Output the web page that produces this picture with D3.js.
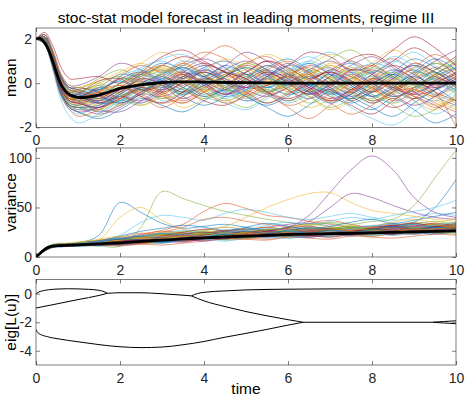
<!DOCTYPE html>
<html><head><meta charset="utf-8">
<script src="https://cdn.jsdelivr.net/npm/d3@7"></script>
<style>
body{margin:0;background:#fff}
svg{display:block}
text{font-family:"Liberation Sans",Arial,Helvetica,sans-serif}
</style>
</head><body>
<svg id="chart" width="468" height="396"></svg>
<script>
// ---------------- data ----------------
const title = "stoc-stat model forecast in leading moments, regime III";
const xTicks = [0, 2, 4, 6, 8, 10];
const meanTicks = [-2, 0, 2];
const varTicks = [0, 50, 100];
const eigTicks = [-4, -2, 0];
const ensembleColors = ["#0072BD","#D95319","#EDB120","#7E2F8E","#77AC30","#4DBEEE","#A2142F"];

// sample times of the ensemble members
const time = [0,0.2,0.4,0.6,0.8,1,1.5,2,2.5,3,3.5,4,4.5,5,5.5,6,6.5,7,7.5,8,8.5,9,9.5,10];

// ensemble members: mean
const meanMembers = [
[2,2.0,1.1,-0.1,-0.5,-0.5,-0.8,-0.2,0.4,0.9,0.6,-0.1,-0.6,-0.3,0.3,0.8,0.5,-0.2,-0.7,-0.4,0.2,0.6,0.1,-0.3],
[2,1.9,0.9,-0.3,-0.8,-0.9,-0.4,0.2,0.1,-0.5,-0.9,-0.4,0.3,0.9,1.2,0.6,-0.1,-0.5,0.0,0.7,1.1,0.5,-0.2,0.1],
[2,2.1,1.3,0.2,-0.3,-0.2,0.1,0.5,0.9,0.4,-0.2,-0.6,-0.2,0.4,0.1,-0.6,-1.1,-0.7,0.1,0.5,0.0,-0.8,-1.2,-0.6],
[2,1.8,0.8,-0.5,-1.0,-1.2,-1.1,-0.6,-0.1,0.3,0.8,1.1,0.7,0.0,-0.4,0.0,0.6,1.0,0.5,-0.1,-0.6,-0.2,0.4,0.9],
[2,2.0,1.0,-0.2,-0.7,-0.7,-0.3,-0.7,-1.0,-0.5,0.2,0.5,0.1,-0.5,-0.9,-0.4,0.3,0.2,-0.4,-0.9,-0.5,0.3,0.9,0.4],
[2,2.1,1.2,0.1,-0.4,-0.4,-0.6,0.0,0.6,1.1,1.3,0.8,0.1,-0.2,0.3,0.7,0.2,-0.5,-0.3,0.4,0.9,1.4,0.8,0.2],
[2,1.9,1.0,-0.2,-0.7,-0.8,-1.3,-1.0,-0.4,0.0,-0.3,-0.8,-1.0,-0.5,0.2,0.4,-0.1,-0.6,-1.0,-1.4,-0.8,-0.2,0.3,-0.2],
[2,2.0,1.1,-0.1,-0.6,-0.6,-0.2,0.4,0.2,-0.2,0.3,0.7,1.0,0.6,-0.1,-0.5,-0.2,0.5,0.9,0.4,-0.3,-0.7,-0.3,0.5],
[2,2.2,1.4,0.3,-0.2,-0.3,-0.9,-0.5,0.0,-0.4,-0.8,-0.3,0.4,0.2,-0.4,-1.0,-0.7,0.0,0.6,0.8,0.3,-0.4,-0.9,-1.3],
[2,1.9,0.9,-0.3,-0.8,-1.0,-0.7,-0.1,0.5,0.7,0.2,-0.3,0.0,0.8,1.3,0.9,0.2,-0.2,0.2,-0.3,-0.9,-0.5,0.2,0.6],
[2,2.0,1.0,-0.2,-0.8,-0.9,-1.2,-1.3,-0.8,-0.2,0.4,0.3,-0.3,-0.8,-0.5,0.2,0.8,0.4,-0.3,0.1,0.6,0.2,-0.6,-1.0],
[2,2.1,1.2,0.0,-0.5,-0.5,0.0,0.3,-0.2,-0.7,-0.4,0.2,0.6,0.3,-0.3,-0.1,0.5,1.1,1.5,0.9,0.3,0.0,0.4,1.0],
[2,1.8,0.7,-0.6,-1.2,-1.4,-1.0,-0.4,0.2,0.5,0.0,-0.6,-0.9,-1.2,-0.7,-0.1,0.0,-0.5,-0.2,0.5,0.3,-0.4,-0.8,-0.3],
[2,2.0,1.1,-0.1,-0.6,-0.6,-0.5,-0.3,0.3,0.8,1.2,0.9,0.3,0.5,1.0,0.5,-0.2,-0.8,-0.5,0.2,0.8,0.4,-0.1,0.3],
[2,2.1,1.3,0.2,-0.2,-0.2,-0.4,-0.8,-0.4,0.2,0.0,-0.5,-0.2,0.3,0.7,1.1,0.6,0.0,-0.6,-1.1,-1.5,-0.9,-0.3,0.1],
[2,1.9,0.8,-0.4,-1.0,-1.1,-0.8,-0.2,-0.5,-0.9,-0.6,0.1,0.5,0.0,-0.5,-0.2,0.4,0.7,0.1,-0.4,0.1,0.7,1.3,0.8],
[2,2.0,1.0,-0.2,-0.7,-0.7,-1.0,-0.4,0.1,0.6,0.3,0.0,0.4,0.9,0.5,-0.1,-0.6,-1.2,-0.8,-0.1,0.4,0.0,-0.7,-1.1],
[2,2.2,1.5,0.4,-0.1,-0.1,0.3,0.9,0.6,0.1,-0.4,-0.1,0.5,0.2,-0.4,-0.8,-0.3,0.3,0.8,1.2,0.7,0.1,-0.2,0.2],
[2,1.8,0.7,-0.5,-1.1,-1.3,-1.5,-0.9,-0.3,-0.1,-0.5,-0.2,0.3,0.7,0.4,0.0,0.5,0.2,-0.5,-0.7,-0.2,0.5,0.2,-0.5],
[2,2.0,1.1,0.0,-0.5,-0.5,-0.2,0.1,0.7,1.0,0.5,0.1,-0.4,-0.8,-0.3,0.4,0.9,0.5,0.0,0.3,-0.2,-0.8,-1.4,-0.9],
[2,2.1,1.2,0.0,-0.5,-0.6,-0.9,-0.6,-0.9,-0.4,0.3,0.8,0.5,-0.2,-0.1,0.3,-0.2,-0.7,-0.3,0.4,1.0,1.6,1.1,0.4],
[2,1.9,0.9,-0.3,-0.8,-0.8,-0.6,0.0,0.4,-0.1,-0.6,-1.0,-0.6,0.1,0.6,0.2,-0.4,-0.1,0.5,0.0,-0.6,-0.3,0.3,0.7],
[2,2.0,1.0,-0.1,-0.7,-0.8,-0.4,-0.6,0.0,0.4,0.9,0.4,-0.2,0.1,-0.5,-1.1,-1.6,-1.0,-0.3,0.1,-0.2,0.2,0.7,0.3],
[2,2.1,1.3,0.1,-0.4,-0.3,-0.1,0.4,0.9,1.4,1.0,0.3,0.0,-0.4,0.0,0.6,0.3,0.9,0.6,-0.1,-0.5,-0.1,-0.6,-0.2],
[2,1.8,0.8,-0.4,-1.0,-1.1,-1.4,-1.1,-0.5,-0.6,-0.2,0.3,0.8,1.4,1.0,0.4,-0.2,-0.3,0.2,0.6,0.2,-0.4,0.0,0.5],
[2,2.0,1.1,-0.1,-0.6,-0.7,-0.5,0.2,0.0,-0.3,0.1,-0.4,-0.8,-0.4,0.2,-0.3,-0.9,-0.5,0.1,-0.5,-1.0,-1.5,-1.2,-0.5],
[2,2.2,1.4,0.2,-0.3,-0.4,-0.7,-0.3,0.3,0.2,-0.3,0.2,0.7,0.4,-0.2,0.5,1.0,1.4,0.9,0.5,1.0,0.6,0.0,-0.4],
[2,1.9,0.9,-0.3,-0.9,-1.0,-0.6,-0.9,-0.5,0.1,0.5,0.0,-0.5,0.0,0.5,0.0,-0.5,0.1,-0.2,-0.8,-0.4,0.1,0.6,1.2],
[2,2.0,1.0,-0.2,-0.7,-0.8,-1.1,-0.5,0.4,0.6,0.2,0.5,0.0,-0.6,-1.0,-0.6,-0.1,-0.4,-0.9,-0.4,0.3,0.8,0.5,0.0],
[2,2.1,1.2,0.1,-0.4,-0.5,-0.3,-0.1,-0.4,0.0,0.6,1.2,1.7,1.2,0.6,0.1,0.4,-0.1,-0.4,0.1,-0.3,-0.2,0.2,-0.1],
[2,1.9,0.8,-0.4,-1.0,-1.2,-0.9,-0.3,0.0,-0.5,-1.1,-0.7,-0.1,0.3,-0.1,0.5,0.2,-0.3,0.3,0.9,1.5,1.0,0.4,-0.2],
[2,2.0,1.1,-0.1,-0.6,-0.6,-0.8,-0.3,-0.1,0.3,-0.1,0.6,0.2,-0.3,-0.6,-0.2,0.2,0.6,1.0,0.5,-0.1,-0.6,-1.0,-1.6],
[2,2.1,1.3,0.2,-0.3,-0.3,0.2,0.6,0.3,0.8,0.4,-0.2,-0.7,-1.1,-0.6,0.0,-0.4,0.1,0.7,0.3,-0.2,0.3,0.9,0.6],
[2,1.8,0.7,-0.5,-1.1,-1.2,-0.8,-0.6,-0.2,-0.8,-0.5,0.0,-0.4,-0.1,0.4,0.8,1.2,0.7,0.1,-0.2,0.4,-0.1,-0.5,0.0],
[2,2.0,1.0,-0.1,-0.7,-0.7,-0.2,-0.4,0.2,-0.1,-0.7,-0.2,0.3,0.8,0.4,-0.3,-0.7,-0.3,-0.8,-0.3,0.2,0.9,0.5,-0.1],
[2,2.1,1.2,0.0,-0.5,-0.6,-0.9,-0.8,-0.2,0.2,0.7,0.3,-0.1,0.4,0.0,0.3,0.9,0.4,-0.1,-0.6,-0.1,0.3,-0.2,-0.8],
[2,1.9,0.9,-0.3,-0.8,-0.9,-0.5,-0.1,-0.6,-1.1,-0.6,-0.1,0.2,-0.2,0.2,-0.4,0.0,0.6,0.3,-0.2,-0.8,-0.4,0.4,0.2],
[2,2.0,1.1,-0.1,-0.7,-0.7,-1.2,-0.7,0.0,0.4,0.1,0.5,1.1,0.7,0.2,0.6,0.1,-0.4,0.0,0.6,0.1,-0.3,0.1,0.4],
[2,2.2,1.4,0.3,-0.2,-0.2,-0.3,0.2,0.5,0.1,0.4,-0.1,-0.5,-0.1,0.5,0.2,-0.3,-0.8,-0.4,-0.9,-0.4,0.4,1.0,1.5],
[2,1.9,0.8,-0.4,-1.0,-1.1,-1.2,-0.6,-0.3,-0.7,-0.2,0.2,-0.2,-0.7,-0.3,-0.8,-0.4,0.2,0.6,0.2,0.5,0.0,-0.5,-0.9],
[2,1.8,0.6,-0.8,-1.5,-1.8,-1.4,-0.8,-0.2,0.1,-0.4,0.0,0.5,0.1,-0.2,0.2,-0.1,-0.5,-1.1,-1.6,-1.9,-1.3,-0.6,-0.2],
[2,2.3,1.7,0.7,0.2,0.2,0.3,0.0,0.5,1.2,1.5,1.0,0.5,0.0,0.3,0.8,1.4,1.2,0.6,0.8,1.5,2.1,1.6,0.8],
[2,1.9,0.8,-0.5,-1.1,-1.3,-1.6,-1.2,-0.7,-1.0,-1.3,-0.8,-0.3,-0.6,-1.1,-1.5,-1.0,-0.4,-0.8,-1.2,-0.7,-1.2,-1.8,-1.4],
[2,2.0,1.1,-0.2,-0.7,-0.6,-0.4,0.3,0.8,0.5,0.9,1.4,1.1,0.4,0.8,0.3,-0.4,-0.9,-1.4,-1.0,-0.3,0.0,-0.4,-2.0],
[2,2.1,1.2,0.0,-0.5,-0.4,-0.2,-0.5,-1.0,-0.6,0.0,-0.2,0.3,0.1,-0.4,0.3,0.8,1.3,1.0,0.4,0.0,-0.6,-1.0,-0.6],
[2,2.0,1.0,-0.2,-0.6,-0.7,-0.9,-0.4,0.2,0.0,-0.4,0.1,0.6,1.0,0.6,0.0,-0.5,-0.1,0.4,0.0,-0.5,-1.0,-0.6,0.1],
[2,2.1,1.3,0.1,-0.4,-0.4,-0.1,-0.5,-0.2,0.5,0.8,0.4,-0.2,-0.6,-0.2,0.4,0.1,-0.4,0.2,0.7,0.3,-0.2,0.3,0.8],
[2,1.9,0.9,-0.3,-0.9,-1.0,-1.3,-0.8,-0.9,-0.3,0.1,-0.3,-0.7,-0.3,0.3,0.6,1.0,0.6,0.0,-0.5,-0.9,-0.3,0.2,-0.3],
[2,2.0,1.1,-0.1,-0.6,-0.5,0.1,0.2,-0.3,-0.1,0.5,0.9,0.5,0.2,-0.4,-0.7,-0.3,0.3,1.1,1.3,0.8,0.2,-0.4,-0.8],
[2,2.2,1.4,0.3,-0.2,-0.3,-0.6,-0.9,-0.5,0.1,-0.2,-0.6,-0.3,0.2,0.8,0.4,-0.1,0.4,-0.1,-0.6,-0.2,0.5,1.1,0.6],
[2,1.8,0.7,-0.6,-1.2,-1.5,-1.2,-0.7,-0.3,-0.6,-0.9,-0.4,0.0,-0.5,-0.1,0.3,-0.3,-0.8,-0.4,0.2,-0.1,-0.7,-0.2,0.3],
[2,2.0,1.0,-0.2,-0.7,-0.8,-0.5,-0.2,0.2,0.7,0.3,-0.3,-0.8,-0.4,0.1,-0.2,0.4,0.8,0.3,-0.3,-0.7,-0.3,-0.8,-1.2],
[2,2.1,1.2,0.0,-0.5,-0.5,-0.8,-0.3,0.1,-0.3,0.2,0.6,0.2,-0.2,0.3,0.9,0.4,-0.2,-0.6,-0.2,0.4,0.8,0.3,-0.1],
[2,1.9,0.9,-0.4,-0.9,-1.0,-0.7,-1.0,-0.6,-0.1,-0.4,0.1,0.4,0.9,0.5,-0.2,-0.6,-1.1,-0.7,-0.2,0.3,-0.1,0.4,1.0],
[2,2.0,1.1,0.0,-0.5,-0.6,-0.3,0.3,0.6,0.2,0.6,0.2,-0.3,0.0,-0.5,-0.9,-0.5,0.0,0.4,0.9,0.6,0.0,-0.3,0.2],
[2,2.1,1.3,0.2,-0.3,-0.4,-0.7,-0.2,-0.6,-0.9,-0.4,0.2,0.0,0.5,1.0,0.7,0.2,0.5,0.0,-0.6,-1.1,-0.7,0.0,0.4],
[2,1.9,0.8,-0.5,-1.0,-1.1,-1.0,-0.5,0.0,0.4,0.7,0.3,0.8,0.4,-0.2,0.1,-0.4,-0.9,-0.5,0.0,0.5,1.1,0.7,0.0],
[2,2.0,1.0,-0.2,-0.7,-0.7,-0.4,-0.7,-0.2,-0.5,0.0,-0.4,-0.9,-0.6,-0.1,0.4,0.7,0.2,-0.3,0.2,-0.2,-0.6,-1.1,-0.7],
[2,2.2,1.5,0.4,-0.1,-0.2,0.0,-0.3,0.3,0.6,0.1,-0.4,0.1,0.6,0.2,-0.3,0.3,0.8,0.4,-0.2,0.1,0.7,0.3,-0.4],
[2,1.8,0.8,-0.4,-1.1,-1.3,-1.1,-0.6,-0.8,-0.3,0.3,0.0,-0.5,-0.2,0.4,0.1,-0.5,-0.2,0.6,0.4,-0.2,-0.5,0.1,0.7],
[2,2.0,1.1,-0.1,-0.6,-0.7,-0.6,0.0,0.5,0.3,-0.2,-0.7,-0.4,0.0,-0.4,0.2,0.6,0.3,-0.3,-0.8,-0.4,0.2,0.6,1.1],
[2,2.1,1.2,0.1,-0.4,-0.5,-0.2,-0.6,-0.1,0.4,1.0,0.7,0.2,-0.3,0.2,-0.2,-0.7,-0.3,0.2,0.5,1.2,0.8,0.2,-0.3],
[2,1.9,0.9,-0.3,-0.8,-0.9,-1.1,-0.7,-0.2,-0.4,0.0,0.5,0.1,-0.4,-0.9,-0.5,0.1,0.5,0.1,-0.4,0.0,-0.5,-0.3,0.2],
[2,2.0,1.0,-0.2,-0.6,-0.6,-0.3,0.1,-0.3,0.0,-0.5,-0.1,0.3,0.7,0.3,-0.1,0.3,-0.3,-0.7,0.0,0.4,0.0,0.5,-0.2],
[2,2.1,1.3,0.1,-0.4,-0.3,-0.6,-0.2,0.4,0.8,0.4,0.1,-0.3,0.2,0.6,1.0,0.5,-0.1,0.3,-0.2,-0.7,-0.3,-0.6,0.0]
];

// ensemble members: variance
const varMembers = [
[0,7,12,13,13,14,22,55,45,34,29,31,33,30,27,30,34,31,28,31,34,30,28,32],
[0,6,11,12,12,13,15,18,22,27,33,46,54,49,42,40,36,33,30,28,31,34,30,27],
[0,7,11,12,12,12,17,40,50,37,28,26,24,27,30,27,25,28,32,29,26,29,33,30],
[0,7,11,12,13,13,14,16,18,22,25,24,27,25,28,30,42,65,88,102,88,60,45,40],
[0,7,11,11,12,12,11,11,30,66,59,52,46,42,38,35,32,34,30,28,31,35,33,30],
[0,8,12,13,12,14,16,22,35,42,40,37,44,48,45,40,38,41,44,40,37,40,44,42],
[0,7,11,12,12,13,15,16,14,17,21,19,18,22,25,23,21,24,27,25,23,26,29,27],
[0,6,10,11,12,12,13,15,18,16,19,23,26,24,22,26,29,27,25,28,31,35,50,78],
[0,7,11,12,13,12,14,17,21,25,30,38,40,36,33,31,34,37,33,30,32,29,31,34],
[0,7,11,12,12,13,14,16,19,22,25,28,31,40,50,58,64,65,55,47,44,41,38,36],
[0,8,12,12,13,13,15,17,16,19,22,25,23,27,30,33,36,50,64,60,52,45,40,38],
[0,7,11,12,12,12,13,15,17,20,23,21,24,28,26,29,32,35,33,36,38,52,80,108],
[0,7,11,12,13,13,15,18,21,19,23,27,30,28,32,35,33,36,40,38,42,46,50,57],
[0,6,10,11,11,12,12,13,15,17,16,18,20,19,22,24,22,21,23,26,24,23,25,28],
[0,7,11,12,12,13,14,16,15,18,20,22,21,23,21,24,26,25,27,24,26,29,28,26],
[0,8,12,13,13,14,17,20,24,22,20,23,26,28,25,23,26,29,27,30,33,30,28,31],
[0,7,11,11,12,11,12,14,16,19,22,20,19,21,24,27,25,23,22,25,28,26,24,25],
[0,7,12,12,13,13,13,15,19,23,21,19,22,25,23,22,20,23,26,28,25,27,31,33],
[0,6,10,11,11,11,12,12,13,15,18,20,17,19,22,20,23,25,23,21,24,27,25,23],
[0,7,11,12,12,13,15,17,20,24,27,25,23,20,22,25,28,26,29,32,30,28,30,34],
[0,7,11,12,13,14,14,13,16,20,18,17,21,24,27,24,22,25,24,27,29,32,29,27],
[0,8,12,12,12,13,16,19,17,16,19,22,25,23,21,23,26,24,26,29,27,25,27,30],
[0,7,11,12,12,12,13,15,18,21,19,21,24,27,30,27,24,22,25,23,26,30,33,29],
[0,6,10,11,12,12,12,14,13,16,18,17,20,22,20,23,21,24,27,25,22,24,27,31],
[0,7,11,12,12,13,15,18,22,20,17,19,22,20,23,26,29,27,24,26,29,27,24,26],
[0,7,12,13,13,13,14,16,15,18,22,26,24,21,24,27,25,29,31,28,30,33,36,32],
[0,7,11,12,12,12,12,13,15,14,16,18,16,19,21,19,22,20,23,22,25,23,26,29],
[0,8,12,12,13,14,16,14,17,21,24,21,19,23,26,29,31,28,26,29,32,29,26,28],
[0,7,11,11,12,12,13,17,20,18,21,23,26,29,27,24,22,26,28,25,23,27,30,28],
[0,6,10,11,11,12,14,15,14,17,20,24,22,20,18,21,24,22,25,28,31,28,25,27],
[0,7,11,12,12,13,13,16,19,17,16,20,23,25,28,26,23,25,22,24,27,30,27,31],
[0,7,11,12,13,13,15,14,16,20,23,21,25,28,26,30,27,24,28,31,29,26,29,33],
[0,8,12,13,12,14,15,17,20,23,21,24,22,19,22,25,27,30,27,24,26,24,28,25],
[0,7,11,12,12,12,11,12,14,17,19,17,20,23,21,19,21,23,21,24,22,25,24,26],
[0,7,11,12,12,13,14,16,18,21,25,28,26,24,26,23,25,28,26,29,32,34,31,29],
[0,6,11,11,12,12,13,15,17,15,18,21,19,22,25,23,26,24,22,25,28,25,23,26],
[0,7,11,12,13,13,14,18,23,26,24,22,25,23,21,24,22,25,29,27,24,27,31,34],
[0,7,12,12,12,13,15,13,15,18,21,23,20,25,24,27,30,28,25,23,27,29,26,24],
[0,8,11,12,13,14,16,19,21,19,22,20,23,21,25,22,24,27,30,28,31,27,30,32],
[0,7,11,11,12,12,13,14,16,19,17,19,22,20,23,26,24,22,24,27,25,29,32,29],
[0,6,10,11,11,12,12,15,18,16,20,22,25,27,24,21,23,26,24,22,25,23,26,30],
[0,7,11,12,12,13,14,16,15,19,17,20,23,21,24,22,26,29,27,30,27,31,34,31],
[0,7,12,13,13,13,16,21,26,29,32,30,27,30,34,31,28,31,35,38,34,37,41,45],
[0,7,11,12,12,12,12,11,13,12,14,16,19,18,17,20,19,18,21,20,19,21,23,22],
[0,8,12,12,13,14,15,18,21,25,23,26,30,28,25,29,33,30,27,31,35,38,35,39],
[0,6,10,11,12,12,14,16,18,17,20,22,21,24,26,24,27,25,23,26,28,26,29,31],
[0,8,13,14,14,15,17,19,18,21,24,22,25,23,27,29,26,28,31,29,27,30,28,32],
[0,7,11,12,11,11,12,14,17,19,18,21,23,21,20,23,25,23,26,24,27,25,28,26],
[0,7,12,13,13,14,16,18,16,20,23,25,23,26,24,22,25,27,25,28,26,29,31,29],
[0,6,10,10,11,11,12,13,15,14,17,19,18,20,23,21,20,22,24,23,25,27,25,28],
[0,7,11,12,12,13,15,17,19,22,20,23,27,25,23,26,28,26,24,27,30,28,32,30],
[0,8,12,13,14,15,18,21,19,18,21,19,22,24,22,25,23,26,29,27,25,28,26,29],
[0,7,11,11,11,12,13,12,14,16,15,18,20,22,25,23,21,23,22,24,23,26,28,25],
[0,7,12,12,12,13,14,17,20,23,26,24,22,25,28,26,29,27,30,28,26,29,33,35],
[0,6,10,11,12,13,15,14,16,18,17,20,18,21,19,22,24,22,25,24,22,25,27,24],
[0,7,11,12,13,13,14,16,18,17,19,22,24,22,26,28,25,23,26,29,27,24,27,30],
[0,8,12,12,12,13,16,18,21,24,22,20,23,26,24,27,30,28,25,27,30,33,30,28],
[0,7,11,12,12,12,13,15,14,16,19,21,19,18,21,23,21,24,23,21,24,26,29,27],
[0,7,12,13,13,14,15,17,19,21,18,21,24,22,25,23,26,24,27,30,28,26,28,31],
[0,6,10,11,11,12,13,15,17,16,18,16,19,22,20,24,26,25,23,25,27,31,28,26],
[0,7,11,12,12,13,14,14,16,19,21,24,22,20,23,21,24,27,29,26,24,26,29,33],
[0,8,12,13,13,14,16,19,22,20,23,21,24,27,29,27,24,26,28,31,33,30,32,35],
[0,7,11,11,12,12,12,13,15,18,16,19,21,23,21,24,22,20,23,25,23,27,25,27],
[0,7,12,12,13,13,15,18,17,15,18,20,23,21,24,26,24,27,25,28,31,28,30,28],
[0,6,10,11,11,12,13,14,16,19,22,20,18,21,23,21,25,28,26,24,26,28,26,30]
];

// ensemble average (thick black)
const avgTime = [0,0.1,0.2,0.3,0.4,0.5,0.6,0.7,0.8,0.9,1.0,1.1,1.2,1.4,1.6,1.8,2,2.5,3,3.5,4,5,6,7,8,9,10];
const avgMean = [2.0,2.02,1.85,1.5,1.0,0.4,-0.08,-0.36,-0.52,-0.6,-0.64,-0.65,-0.64,-0.58,-0.48,-0.36,-0.24,-0.08,0.03,0.06,0.05,0.02,0.0,0.0,0.0,0.0,0.0];
const avgVar  = [0,3.8,7.5,10,11,11.3,11.6,11.8,12,12.1,12.3,12.5,12.7,13.1,13.5,13.9,14.3,15.8,17,18.3,19.3,21,22.7,23.5,24.3,25.4,26.3];

// eigenvalues of L(u)
const eigA_t = [0,0.05,0.15,0.3,0.5,0.75,1.0,1.25,1.5,1.62,1.7];
const eigA_v = [0,0.1,0.2,0.28,0.33,0.35,0.34,0.31,0.24,0.15,0.03];
const eigB_t = [0,0.5,1.0,1.5,1.7];
const eigB_v = [-1.0,-0.71,-0.41,-0.12,0.03];
const eigM_t = [1.7,2,2.5,3,3.5,3.7];
const eigM_v = [0.03,0.07,0.07,0.0,-0.1,-0.15];
const eigU_t = [3.7,3.85,4,4.5,5,6,7,8,9,10];
const eigU_v = [-0.15,0.02,0.1,0.2,0.27,0.32,0.34,0.34,0.34,0.34];
const eigD_t = [3.7,4,4.5,5,5.5,6,6.36];
const eigD_v = [-0.15,-0.5,-0.9,-1.25,-1.55,-1.82,-2.0];
const eigC_t = [0,0.05,0.25,0.5,1,1.5,2,2.5,3,3.5,4,4.5,5,5.5,6,6.36];
const eigC_v = [-2.5,-2.75,-3.0,-3.15,-3.37,-3.57,-3.72,-3.78,-3.74,-3.58,-3.35,-3.05,-2.78,-2.5,-2.2,-2.0];
const eigF_t = [6.36,7,8,9,9.45];
const eigF_v = [-2.0,-2.0,-2.0,-2.0,-2.0];
const eigE1_t = [9.45,9.7,10];
const eigE1_v = [-2.0,-1.95,-1.9];
const eigE2_t = [9.45,9.7,10];
const eigE2_v = [-2.0,-2.05,-2.1];

// ---------------- drawing ----------------
const svg = d3.select("#chart");
const X0 = 36, X1 = 456;
const x = d3.scaleLinear().domain([0, 10]).range([X0, X1]);
const fmt = d => String(d).replace("\u2212", "-");
const axisColor = "#262626";

function panel(id, top, bottom, ydom, yticks, label) {
  const y = d3.scaleLinear().domain(ydom).range([bottom, top]);
  const g = svg.append("g");
  g.append("clipPath").attr("id", id).append("rect")
    .attr("x", X0).attr("y", top).attr("width", X1 - X0).attr("height", bottom - top);
  const plot = g.append("g").attr("clip-path", `url(#${id})`);
  const ax = g.append("g");
  ax.append("g").attr("transform", `translate(0,${bottom})`)
    .call(d3.axisBottom(x).tickValues(xTicks).tickSize(-4).tickPadding(8).tickFormat(fmt));
  ax.append("g").attr("transform", `translate(0,${top})`)
    .call(d3.axisTop(x).tickValues(xTicks).tickSize(-4).tickFormat(""));
  ax.append("g").attr("transform", `translate(${X0},0)`)
    .call(d3.axisLeft(y).tickValues(yticks).tickSize(-4).tickPadding(4).tickFormat(fmt));
  ax.append("g").attr("transform", `translate(${X1},0)`)
    .call(d3.axisRight(y).tickValues(yticks).tickSize(-4).tickFormat(""));
  ax.selectAll(".domain").remove();
  ax.selectAll(".tick line").attr("stroke", axisColor).attr("stroke-width", 0.6);
  ax.selectAll(".tick text").attr("fill", "#262626").style("font-size", "14px")
    .style("font-family", '"Liberation Sans", Arial, sans-serif');
  ax.append("rect").attr("x", X0).attr("y", top).attr("width", X1 - X0).attr("height", bottom - top)
    .attr("fill", "none").attr("stroke", axisColor).attr("stroke-width", 0.6);
  g.append("text").attr("transform", `translate(16,${(top + bottom) / 2}) rotate(-90)`)
    .attr("text-anchor", "middle").style("font-size", "15.5px").attr("fill", "#000").text(label);
  return { y, plot };
}

// top: mean
const p1 = panel("clip1", 28, 127.3, [-2, 2.5], meanTicks, "mean");
const line1 = d3.line().x((d, i) => x(time[i])).y(d => p1.y(d)).curve(d3.curveCatmullRom);
p1.plot.selectAll("path.m").data(meanMembers).join("path")
  .attr("d", line1).attr("fill", "none")
  .attr("stroke", (d, i) => ensembleColors[i % 7]).attr("stroke-width", 0.7).attr("stroke-opacity", 0.8);
p1.plot.append("path").datum(avgMean)
  .attr("d", d3.line().x((d, i) => x(avgTime[i])).y(d => p1.y(d)).curve(d3.curveCatmullRom))
  .attr("fill", "none").attr("stroke", "#000").attr("stroke-width", 2.8);

// middle: variance
const p2 = panel("clip2", 148, 257, [0, 110], varTicks, "variance");
const line2 = d3.line().x((d, i) => x(time[i])).y(d => p2.y(d)).curve(d3.curveCatmullRom);
p2.plot.selectAll("path.v").data(varMembers).join("path")
  .attr("d", line2).attr("fill", "none")
  .attr("stroke", (d, i) => ensembleColors[i % 7]).attr("stroke-width", 0.7).attr("stroke-opacity", 0.8);
p2.plot.append("path").datum(avgVar)
  .attr("d", d3.line().x((d, i) => x(avgTime[i])).y(d => p2.y(d)).curve(d3.curveCatmullRom))
  .attr("fill", "none").attr("stroke", "#000").attr("stroke-width", 2.8);

// bottom: eigenvalues
const p3 = panel("clip3", 279.5, 365, [-5, 1], eigTicks, "eig[L(u)]");
const eigSets = [
  [eigA_t, eigA_v], [eigB_t, eigB_v], [eigM_t, eigM_v], [eigU_t, eigU_v],
  [eigD_t, eigD_v], [eigC_t, eigC_v], [eigF_t, eigF_v], [eigE1_t, eigE1_v], [eigE2_t, eigE2_v]
];
eigSets.forEach(([t, v]) => {
  p3.plot.append("path").datum(v)
    .attr("d", d3.line().x((d, i) => x(t[i])).y(d => p3.y(d)).curve(d3.curveMonotoneX))
    .attr("fill", "none").attr("stroke", "#000").attr("stroke-width", 1);
});

// title and x label
svg.append("text").attr("x", (X0 + X1) / 2).attr("y", 23).attr("text-anchor", "middle")
  .style("font-size", "15.5px").attr("fill", "#000").text(title);
svg.append("text").attr("x", (X0 + X1) / 2).attr("y", 394).attr("text-anchor", "middle")
  .style("font-size", "15.5px").attr("fill", "#000").text("time");
</script>
</body></html>
